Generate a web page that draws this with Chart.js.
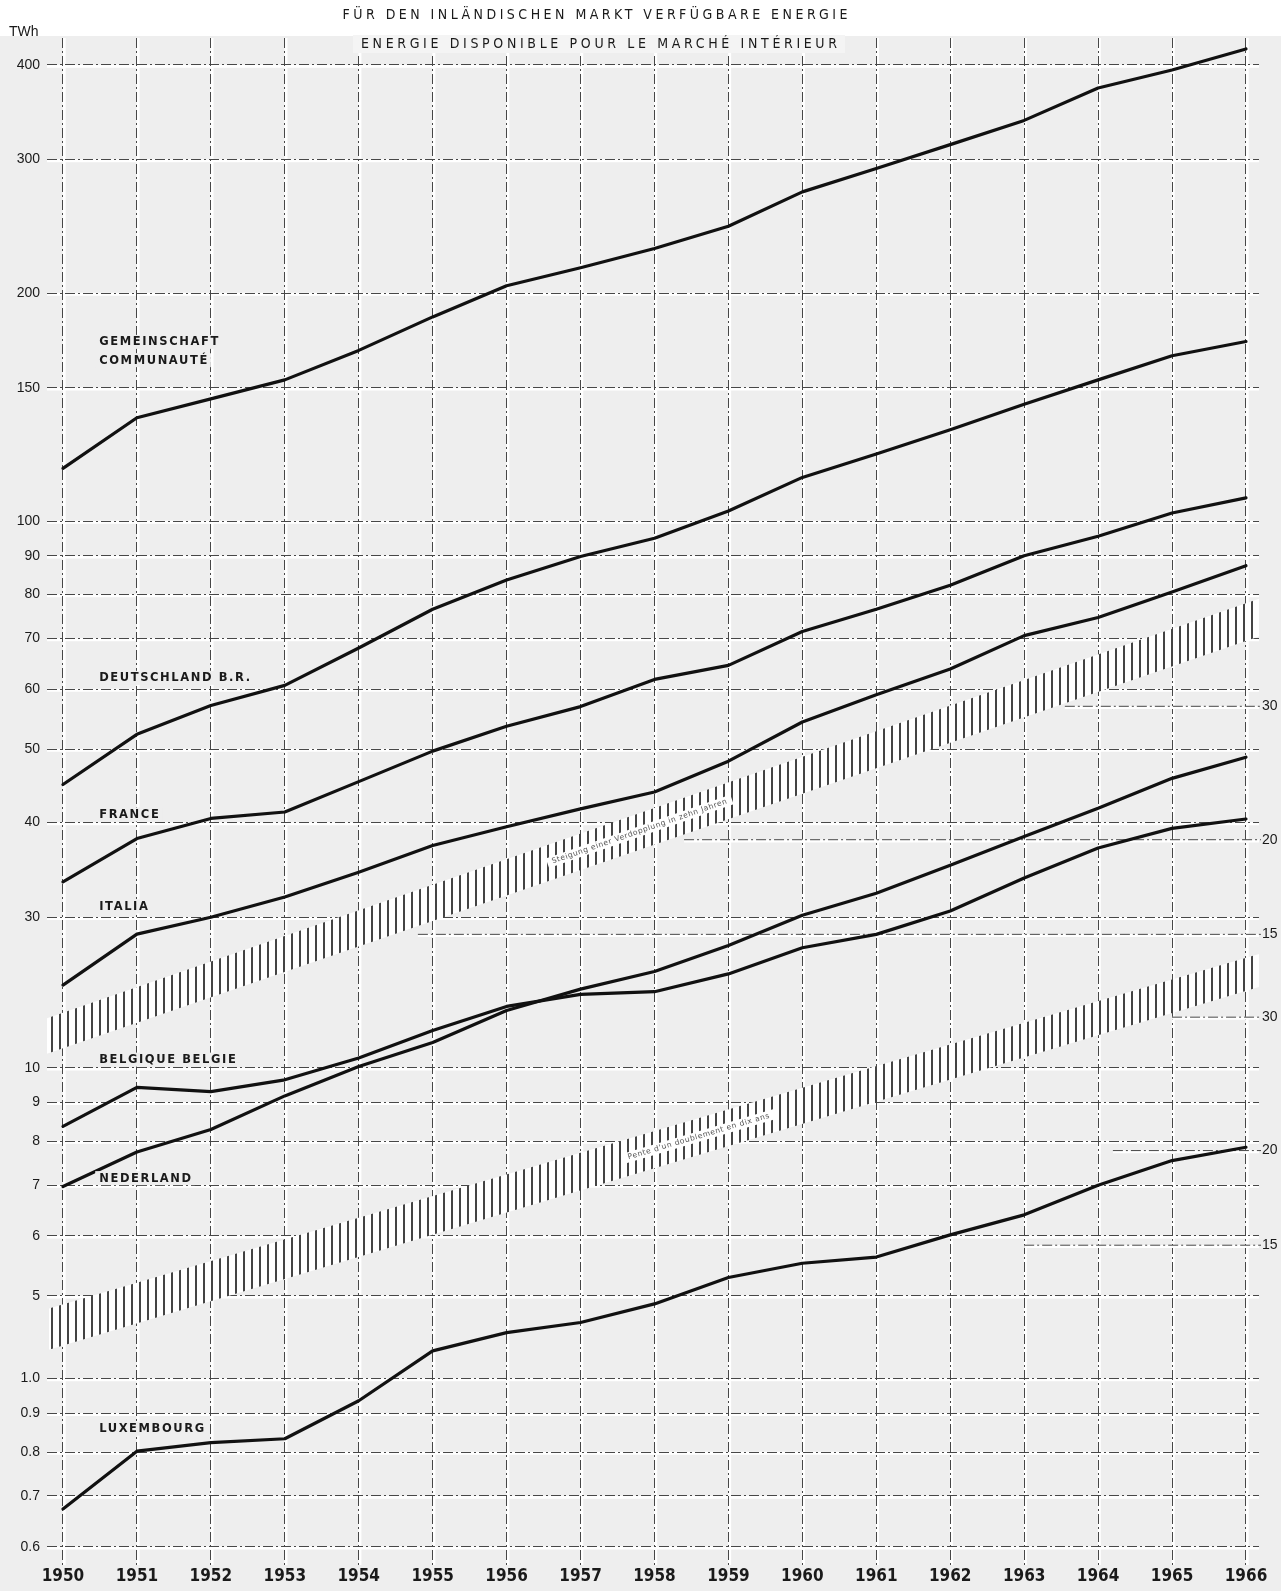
<!DOCTYPE html>
<html>
<head>
<meta charset="utf-8">
<script src="https://cdn.jsdelivr.net/npm/chart.js@4.4.1/dist/chart.umd.min.js"></script>
<style>
html,body{margin:0;padding:0;background:#fff;}
#wrap{width:1287px;height:1591px;position:relative;}
canvas{display:block;}
</style>
</head>
<body>
<div id="wrap"><canvas id="c" width="1287" height="1591"></canvas></div>
<script>
// ---------------- DATA ----------------
const years = [1950,1951,1952,1953,1954,1955,1956,1957,1958,1959,1960,1961,1962,1963,1964,1965,1966];
const gemeinschaft = [117.4,136.9,145.0,153.6,168.0,186.0,204.5,216.0,229.0,245.0,272.0,292.0,314.0,338.0,373.0,394.0,420.0];
const deutschland  = [44.9,52.3,57.1,60.7,68.0,76.5,83.6,89.8,94.9,103.1,114.2,122.6,132.0,142.6,153.6,165.3,172.6];
const france       = [33.4,38.1,40.5,41.3,45.3,49.7,53.6,56.9,61.8,64.5,71.5,76.5,82.3,90.0,95.5,102.5,107.3];
const italia       = [24.4,28.5,30.0,31.9,34.4,37.3,39.5,41.7,43.9,48.2,54.3,59.0,63.8,70.6,74.6,80.6,87.3];
const belgique     = [8.37,9.42,9.30,9.64,10.3,11.2,12.05,12.5,12.6,13.3,14.4,15.0,16.1,17.8,19.5,20.7,21.3];
const nederland    = [6.97,7.74,8.29,9.18,10.04,10.8,11.9,12.7,13.4,14.5,15.9,17.0,18.5,20.2,22.0,24.1,25.7];
const luxembourg   = [0.673,0.802,0.823,0.833,0.935,1.088,1.150,1.186,1.255,1.36,1.42,1.447,1.548,1.645,1.80,1.94,2.02];

// tick values / labels of the three broken log segments
const topTicks = [400,300,200,150,100,90,80,70,60,50,40,30];
const topTickLabels = ['400','300','200','150','100','90','80','70','60','50','40','30'];
const midTicks = [10,9,8,7,6,5];
const midTickLabels = ['10','9','8','7','6','5'];
const lowTicks = [1.0,0.9,0.8,0.7,0.6];
const lowTickLabels = ['1.0','0.9','0.8','0.7','0.6'];
// right-hand auxiliary scales
const rightMidTicks = [30,20,15];
const rightMidLabels = ['30','20','15'];
const rightLowTicks = [3.0,2.0,1.5];
const rightLowLabels = ['30','20','15'];

// axis ranges (values)
const xRange = [1949.784, 1966.176];
const topRange = [23.35, 434.2];
const midRange = [4.376, 12.30];
const lowRange = [0.5675, 1.1257];

// "doubling in ten years" guide bands
const band1Years = [1949.73, 1966.23];
const band1Upper = [21.98, 79.3];
const band1Lower = [19.72, 70.7];
const band2Years = [1949.81, 1966.28];
const band2Upper = [4.81, 14.23];
const band2Lower = [4.245, 12.87];
const band1Text = 'Steigung einer Verdopplung in zehn Jahren';
const band2Text = "Pente d'un doublement en dix ans";

// series labels
const seriesLabels = ['GEMEINSCHAFT','COMMUNAUTÉ','DEUTSCHLAND B.R.','FRANCE','ITALIA','BELGIQUE BELGIE','NEDERLAND','LUXEMBOURG'];
const labelAxes = ['yTop','yTop','yTop','yTop','yTop','yMid','yMid','yLow'];
const labelValues = [172.4,163.1,62.1,41.0,31.0,10.25,7.15,0.859];
const labelYear = 1950.49;

const title1 = 'FÜR DEN INLÄNDISCHEN MARKT VERFÜGBARE ENERGIE';
const title2 = 'ENERGIE DISPONIBLE POUR LE MARCHÉ INTÉRIEUR';
const unitLabel = 'TWh';

// ---------------- STYLE ----------------
const BG = '#eeeeee';
const GRID = '#474747';
const LINE = '#111111';
const TXT = '#1a1a1a';
const DASH = [10,3,2,3];
const TICK_FONT = '"Liberation Sans", Arial, sans-serif';
const YEAR_FONT = '"Liberation Sans Narrow", "DejaVu Sans Condensed", "Liberation Sans", sans-serif';
const LABEL_FONT = 'bold 11.5px "DejaVu Sans", sans-serif';
const TITLE_FONT = '14px "DejaVu Sans Condensed", "Liberation Sans Narrow", "DejaVu Sans", sans-serif';
const rightRefStyle = [
  {axis:'yMid', ticks: rightMidTicks, labels: rightMidLabels, from: [1963.55, 1958.4, 1954.8]},
  {axis:'yLow', ticks: rightLowTicks, labels: rightLowLabels, from: [1965.0, 1964.2, 1963.0]}
];

// ---------------- CHART ----------------
const canvas = document.getElementById('c');
const ctx0 = canvas.getContext('2d');

function makeHatch() {
  const pc = document.createElement('canvas');
  pc.width = 8; pc.height = 8;
  const g = pc.getContext('2d');
  g.fillStyle = '#ffffff'; g.fillRect(0,0,8,8);
  g.fillStyle = '#444444'; g.fillRect(3,0,2,8);
  return ctx0.createPattern(pc, 'repeat');
}
const hatch = makeHatch();

const pts = (xs, ys) => xs.map((x, i) => ({x: x, y: ys[i]}));
const lineDs = (label, vals, axis) => ({
  label, data: pts(years, vals), yAxisID: axis,
  borderColor: LINE, borderWidth: 3.2, pointRadius: 0, pointHoverRadius: 0,
  tension: 0, fill: false, clip: false, borderJoinStyle: 'round', borderCapStyle: 'round'
});
const bandEdge = (label, xs, vals, axis, fill) => ({
  label, data: pts(xs, vals), yAxisID: axis,
  borderColor: 'rgba(0,0,0,0)', borderWidth: 1, pointRadius: 0, tension: 0,
  fill: fill, backgroundColor: hatch, clip: false
});

function logAxis(range, ticks, labels, weight) {
  return {
    type: 'logarithmic', position: 'left', stack: 'left',
    stackWeight: Math.log10(range[1] / range[0]), weight: weight,
    min: range[0], max: range[1], bounds: 'data',
    afterBuildTicks: s => { s.ticks = ticks.map(v => ({value: v})); },
    afterFit: s => { s.width = 47; },
    ticks: {
      autoSkip: false, padding: 7, color: TXT,
      font: {family: TICK_FONT, size: 14},
      callback: (v, i) => labels[i]
    },
    grid: {color: GRID, lineWidth: 1, drawTicks: false},
    border: {display: false, dash: DASH}
  };
}

function line(ctx, x1, y1, x2, y2) {
  ctx.beginPath(); ctx.moveTo(x1, y1); ctx.lineTo(x2, y2); ctx.stroke();
}

function fitText(ctx, text, cx, y, width, bg) {
  ctx.letterSpacing = '0px';
  const w0 = ctx.measureText(text).width;
  const sp = Math.max(0, (width - w0) / (text.length - 1));
  ctx.letterSpacing = sp + 'px';
  if (bg) {
    const f = ctx.fillStyle;
    ctx.fillStyle = bg; ctx.fillRect(cx - width / 2 - 8, y - 9, width + 16, 18);
    ctx.fillStyle = f;
  }
  ctx.textAlign = 'left';
  ctx.fillText(text, cx - width / 2, y);
  ctx.letterSpacing = '0px';
}

function bandText(chart, axisId, bx, up, lo, t, text) {
  const ctx = chart.ctx;
  const xs = chart.scales.x, ys = chart.scales[axisId];
  const p = i => ({x: xs.getPixelForValue(bx[i]),
                   yc: (ys.getPixelForValue(up[i]) + ys.getPixelForValue(lo[i])) / 2});
  const p0 = p(0), p1 = p(1);
  const px = xs.getPixelForValue(t);
  const f = (px - p0.x) / (p1.x - p0.x);
  const yc = p0.yc * (1 - f) + p1.yc * f;
  const ang = Math.atan2(p1.yc - p0.yc, p1.x - p0.x);
  ctx.save();
  ctx.translate(px, yc); ctx.rotate(ang);
  ctx.font = '7.5px "DejaVu Sans", sans-serif';
  ctx.letterSpacing = '0.6px';
  const w = ctx.measureText(text).width;
  ctx.fillStyle = '#ffffff';
  ctx.fillRect(-w / 2 - 5, -5, w + 10, 10);
  ctx.fillStyle = '#555';
  ctx.textAlign = 'center'; ctx.textBaseline = 'middle';
  ctx.fillText(text, 0, 0);
  ctx.restore();
}

const decor = {
  id: 'decor',
  beforeDraw(chart) {
    const {ctx, chartArea: a} = chart;
    ctx.save();
    ctx.fillStyle = '#ffffff'; ctx.fillRect(0, 0, chart.width, chart.height);
    ctx.fillStyle = BG; ctx.fillRect(0, a.top - 2, a.right + 22, chart.height - a.top + 2);
    // white halos next to grid lines (scan look)
    ctx.strokeStyle = '#ffffff'; ctx.lineWidth = 3;
    ['yTop', 'yMid', 'yLow'].forEach(id => {
      const s = chart.scales[id];
      s.ticks.forEach(t => { const p = s.getPixelForValue(t.value) + 1.2; line(ctx, a.left, p, a.right, p); });
    });
    const xs = chart.scales.x;
    xs.ticks.forEach(t => { const p = xs.getPixelForValue(t.value) + 1.2; line(ctx, p, a.top, p, a.bottom); });
    ctx.restore();
  },
  beforeDatasetsDraw(chart) {
    const {ctx, chartArea: a} = chart;
    const xs = chart.scales.x;
    ctx.save();
    rightRefStyle.forEach(r => {
      const s = chart.scales[r.axis];
      r.ticks.forEach((v, i) => {
        const p = s.getPixelForValue(v);
        const x0 = xs.getPixelForValue(r.from[i]);
        ctx.strokeStyle = '#ffffff'; ctx.lineWidth = 3; ctx.setLineDash([]);
        line(ctx, x0, p + 1.2, a.right, p + 1.2);
        ctx.strokeStyle = GRID; ctx.lineWidth = 1; ctx.setLineDash(DASH);
        line(ctx, x0, p, a.right + 2, p);
      });
    });
    ctx.restore();
  },
  afterDatasetsDraw(chart) {
    const {ctx, chartArea: a} = chart;
    const xs = chart.scales.x;
    ctx.save();
    // band texts
    bandText(chart, 'yTop', band1Years, band1Upper, band1Lower, 1957.8, band1Text);
    bandText(chart, 'yMid', band2Years, band2Upper, band2Lower, 1958.6, band2Text);
    // series labels
    ctx.font = LABEL_FONT; ctx.textBaseline = 'middle'; ctx.textAlign = 'left';
    seriesLabels.forEach((txt, i) => {
      const x = xs.getPixelForValue(labelYear);
      const y = chart.scales[labelAxes[i]].getPixelForValue(labelValues[i]);
      ctx.letterSpacing = '1.6px';
      const w = ctx.measureText(txt).width;
      ctx.fillStyle = BG; ctx.fillRect(x - 4, y - 7, w + 6, 14);
      ctx.fillStyle = TXT; ctx.fillText(txt, x, y + 0.5);
    });
    ctx.letterSpacing = '0px';
    // right-hand scale labels
    ctx.font = '14px ' + TICK_FONT; ctx.fillStyle = TXT; ctx.textAlign = 'left'; ctx.textBaseline = 'middle';
    rightRefStyle.forEach(r => {
      const s = chart.scales[r.axis];
      r.ticks.forEach((v, i) => ctx.fillText(r.labels[i], a.right + 3, s.getPixelForValue(v)));
    });
    // unit label
    ctx.font = '14px ' + TICK_FONT; ctx.textAlign = 'left'; ctx.textBaseline = 'middle';
    ctx.fillText(unitLabel, 9, a.top - 6);
    // titles
    ctx.font = TITLE_FONT; ctx.textBaseline = 'middle'; ctx.fillStyle = TXT;
    fitText(ctx, title1, 595, 15, 505, null);
    fitText(ctx, title2, 599, 44, 476, '#f4f4f4');
    ctx.restore();
  }
};

new Chart(canvas, {
  type: 'line',
  data: {
    datasets: [
      lineDs('Gemeinschaft / Communauté', gemeinschaft, 'yTop'),
      lineDs('Deutschland B.R.', deutschland, 'yTop'),
      lineDs('France', france, 'yTop'),
      lineDs('Italia', italia, 'yTop'),
      lineDs('Belgique België', belgique, 'yMid'),
      lineDs('Nederland', nederland, 'yMid'),
      lineDs('Luxembourg', luxembourg, 'yLow'),
      bandEdge('band1 upper', band1Years, band1Upper, 'yTop', false),
      bandEdge('band1 lower', band1Years, band1Lower, 'yTop', '-1'),
      bandEdge('band2 upper', band2Years, band2Upper, 'yMid', false),
      bandEdge('band2 lower', band2Years, band2Lower, 'yMid', '-1')
    ]
  },
  options: {
    responsive: false,
    animation: false,
    layout: {padding: {top: 38, right: 28, left: 0, bottom: 0}},
    plugins: {legend: {display: false}, tooltip: {enabled: false}, title: {display: false}},
    events: [],
    scales: {
      x: {
        type: 'linear', position: 'bottom', min: xRange[0], max: xRange[1],
        afterBuildTicks: s => { s.ticks = years.map(v => ({value: v})); },
        afterFit: s => { s.height = 26; },
        ticks: {
          autoSkip: false, maxRotation: 0, minRotation: 0, padding: 1, color: TXT,
          font: {family: YEAR_FONT, size: 17, weight: 'bold'},
          callback: (v, i) => String(years[i])
        },
        grid: {color: GRID, lineWidth: 1, drawTicks: false},
        border: {display: false, dash: DASH}
      },
      yLow: logAxis(lowRange, lowTicks, lowTickLabels, 1),
      yMid: logAxis(midRange, midTicks, midTickLabels, 2),
      yTop: logAxis(topRange, topTicks, topTickLabels, 3)
    }
  },
  plugins: [decor]
});
</script>
</body>
</html>
